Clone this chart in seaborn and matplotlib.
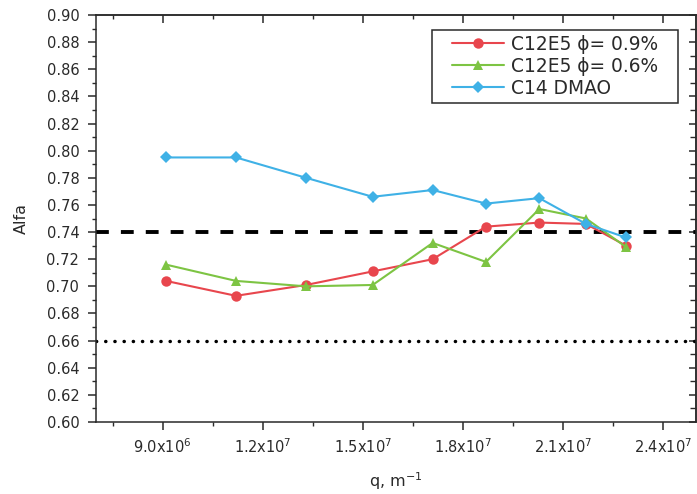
import matplotlib
matplotlib.use("Agg")
import matplotlib.pyplot as plt
from matplotlib.ticker import MultipleLocator, FixedLocator, NullFormatter
from matplotlib.patches import Rectangle
import seaborn as sns
import pandas as pd

# ---- data ----
q_values = [9.1e6, 11.2e6, 13.3e6, 15.3e6, 17.1e6, 18.7e6, 20.3e6, 21.7e6, 22.9e6]
alfa_c12e5_09 = [0.704, 0.693, 0.701, 0.711, 0.720, 0.744, 0.747, 0.746, 0.730]
alfa_c12e5_06 = [0.716, 0.704, 0.700, 0.701, 0.732, 0.718, 0.757, 0.750, 0.729]
alfa_c14_dmao = [0.795, 0.795, 0.780, 0.766, 0.771, 0.761, 0.765, 0.746, 0.736]
series_names = ["C12E5 \u03d5= 0.9%", "C12E5 \u03d5= 0.6%", "C14 DMAO"]
ref_dashed = 0.74
ref_dotted = 0.66
xtick_values = [9.0e6, 1.2e7, 1.5e7, 1.8e7, 2.1e7, 2.4e7]
xtick_labels = [r"9.0x10$^{6}$", r"1.2x10$^{7}$", r"1.5x10$^{7}$",
                r"1.8x10$^{7}$", r"2.1x10$^{7}$", r"2.4x10$^{7}$"]
ytick_values = [0.60, 0.62, 0.64, 0.66, 0.68, 0.70, 0.72, 0.74, 0.76, 0.78,
                0.80, 0.82, 0.84, 0.86, 0.88, 0.90]

colors = ["#e8464d", "#7dc443", "#3fb1e6"]
markers = ["o", "^", "D"]

df = pd.concat([
    pd.DataFrame({"q": q_values, "alfa": vals, "series": name})
    for name, vals in zip(series_names, [alfa_c12e5_09, alfa_c12e5_06, alfa_c14_dmao])
], ignore_index=True)

sns.set_theme(style="ticks")
plt.rcParams["font.family"] = ["DejaVu Sans"]
text_color = "#2a2a2a"

fig = plt.figure(figsize=(6.97, 4.94), dpi=100)
ax = fig.add_axes([96 / 697, 1 - 422 / 494, (696 - 96) / 697, (422 - 15) / 494])

sns.lineplot(data=df, x="q", y="alfa", hue="series", style="series",
             hue_order=series_names, style_order=series_names,
             palette=dict(zip(series_names, colors)),
             markers=dict(zip(series_names, markers)),
             dashes=False, linewidth=1.5, markersize=7.5,
             markeredgewidth=0, ax=ax, legend=True)

for line in ax.lines:
    if line.get_marker() == "D":
        line.set_markersize(6.5)

ax.axhline(ref_dashed, color="black", lw=2.8, linestyle=(0, (3.3, 3.1)),
           dash_capstyle="butt", zorder=1)
ax.axhline(ref_dotted, color="black", lw=2.5, linestyle=(0, (0.05, 2.6)),
           dash_capstyle="round", zorder=1)

ax.set_xlim(7.0e6, 2.5e7)
ax.set_ylim(0.60, 0.90)
ax.xaxis.set_major_locator(FixedLocator(xtick_values))
ax.set_xticklabels(xtick_labels)
ax.xaxis.set_minor_locator(MultipleLocator(1.5e6))
ax.yaxis.set_major_locator(FixedLocator(ytick_values))
ax.set_yticklabels([f"{v:.2f}" for v in ytick_values])
ax.yaxis.set_minor_locator(MultipleLocator(0.01))

for s in ax.spines.values():
    s.set_visible(True)
    s.set_linewidth(1.1)
    s.set_color(text_color)

ax.tick_params(axis="both", which="major", direction="out", length=6, width=1.1,
               color=text_color, labelsize=10.5, labelcolor=text_color)
ax.tick_params(axis="both", which="minor", direction="out", length=3, width=1.0,
               color=text_color)
ax.tick_params(axis="x", which="major", pad=5)
ax.tick_params(axis="y", which="major", pad=6)
ax.tick_params(axis="x", which="both", top=False)
ax.tick_params(axis="y", which="both", right=False)

# inward ticks on the top and right frame
top = ax.secondary_xaxis("top")
top.xaxis.set_major_locator(FixedLocator(xtick_values))
top.xaxis.set_minor_locator(MultipleLocator(1.5e6))
top.xaxis.set_major_formatter(NullFormatter())
top.tick_params(which="major", direction="in", length=6, width=1.1, color=text_color)
top.tick_params(which="minor", direction="in", length=3, width=1.0, color=text_color)
top.spines["top"].set_linewidth(1.1)
top.spines["top"].set_color(text_color)

right = ax.secondary_yaxis("right")
right.yaxis.set_major_locator(FixedLocator(ytick_values))
right.yaxis.set_minor_locator(MultipleLocator(0.01))
right.yaxis.set_major_formatter(NullFormatter())
right.tick_params(which="major", direction="in", length=5, width=1.1, color=text_color)
right.tick_params(which="minor", direction="in", length=4, width=1.0, color=text_color)
right.spines["right"].set_linewidth(1.1)
right.spines["right"].set_color(text_color)

ax.set_xlabel("q, m$^{-1}$", fontsize=11.5, color=text_color, labelpad=10)
ax.set_ylabel("Alfa", fontsize=11.5, color=text_color, labelpad=13)

handles, labels = ax.get_legend_handles_labels()
leg = ax.legend(handles, labels, loc="upper right",
                bbox_to_anchor=((663 - 96) / 600, (422 - 30) / 407),
                borderaxespad=0, frameon=False,
                fontsize=13.4, handlelength=2.8, handletextpad=0.38,
                labelspacing=0.17, borderpad=0.25, labelcolor=text_color)

fig.canvas.draw()
bb = leg.get_window_extent(fig.canvas.get_renderer())
W, H = fig.bbox.width, fig.bbox.height
frame = Rectangle(((bb.x0 - 15) / W, bb.y0 / H), (bb.width + 30) / W, bb.height / H,
                  transform=fig.transFigure, fill=False, edgecolor=text_color,
                  linewidth=1.1, zorder=5)
fig.add_artist(frame)

fig.savefig("out.png", dpi=100)
